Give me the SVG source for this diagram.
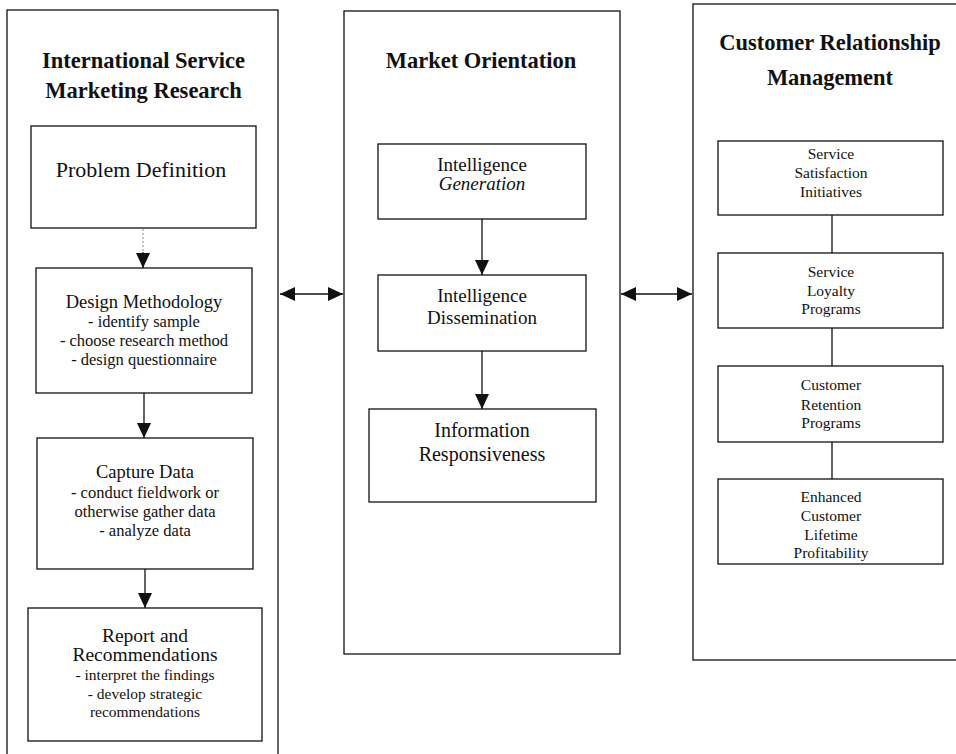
<svg xmlns="http://www.w3.org/2000/svg" width="956" height="754" viewBox="0 0 956 754">
<style>
  .frame{fill:#fff;stroke:#111;stroke-width:1.3}
  .box{fill:#fff;stroke:#111;stroke-width:1.3}
  .title{font-family:"Liberation Serif","Times New Roman",serif;font-weight:bold;font-size:22.5px;fill:#111;text-anchor:middle}
  .t{font-family:"Liberation Serif","Times New Roman",serif;fill:#111;text-anchor:middle}
  .h{font-size:18.5px}
  .b{font-size:16.5px}
  .s{font-size:15.5px}
  .line{stroke:#111;stroke-width:1.3;fill:none}
</style>
<defs>
  <marker id="ah" markerUnits="userSpaceOnUse" markerWidth="15" markerHeight="14" refX="15" refY="7" orient="auto-start-reverse">
    <path d="M0,0 L15,7 L0,14 z" fill="#111"/>
  </marker>
</defs>
<rect width="956" height="754" fill="#fff"/>

<g id="col-left">
  <rect class="frame" x="7" y="10" width="271" height="750"/>
  <text class="title" x="143.5" y="68">International Service</text>
  <text class="title" x="143.5" y="98">Marketing Research</text>
</g>
<g id="col-middle">
  <rect class="frame" x="344" y="11" width="276" height="643"/>
  <text class="title" x="481" y="68">Market Orientation</text>
</g>
<g id="col-right">
  <rect class="frame" x="693" y="4" width="270" height="656"/>
  <text class="title" x="830" y="50">Customer Relationship</text>
  <text class="title" x="830" y="85">Management</text>
</g>

<g id="connectors">
  <line x1="143" y1="229" x2="143" y2="268" stroke="#888" stroke-width="1" stroke-dasharray="2,2"/>
  <line class="line" x1="143" y1="252" x2="143" y2="268" marker-end="url(#ah)"/>
  <line class="line" x1="144" y1="393" x2="144" y2="438" marker-end="url(#ah)"/>
  <line class="line" x1="145" y1="569" x2="145" y2="608" marker-end="url(#ah)"/>
  <line class="line" x1="482" y1="219" x2="482" y2="275" marker-end="url(#ah)"/>
  <line class="line" x1="482" y1="351" x2="482" y2="409" marker-end="url(#ah)"/>
  <line class="line" x1="832" y1="215" x2="832" y2="253"/>
  <line class="line" x1="832" y1="328" x2="832" y2="366"/>
  <line class="line" x1="832" y1="442" x2="832" y2="479"/>
  <line class="line" x1="280" y1="294" x2="343" y2="294" marker-start="url(#ah)" marker-end="url(#ah)"/>
  <line class="line" x1="621" y1="294" x2="692" y2="294" marker-start="url(#ah)" marker-end="url(#ah)"/>
</g>

<g id="problem-definition">
  <rect class="box" x="31" y="126" width="225" height="102"/>
  <text class="t" x="141" y="177" font-size="22px">Problem Definition</text>
</g>
<g id="design-methodology">
  <rect class="box" x="36" y="268" width="216" height="125"/>
  <text class="t h" x="144" y="308">Design Methodology</text>
  <text class="t b" x="144" y="326.5">- identify sample</text>
  <text class="t b" x="144" y="345.5">- choose research method</text>
  <text class="t b" x="144" y="364.5">- design questionnaire</text>
</g>
<g id="capture-data">
  <rect class="box" x="37" y="438" width="216" height="131"/>
  <text class="t h" x="145" y="478">Capture Data</text>
  <text class="t b" x="145" y="497.5">- conduct fieldwork or</text>
  <text class="t b" x="145" y="517">otherwise gather data</text>
  <text class="t b" x="145" y="536">- analyze data</text>
</g>
<g id="report">
  <rect class="box" x="28" y="608" width="234" height="133"/>
  <text class="t" x="145" y="642" font-size="19.5px">Report and</text>
  <text class="t" x="145" y="661" font-size="19.5px">Recommendations</text>
  <text class="t s" x="145" y="680">- interpret the findings</text>
  <text class="t s" x="145" y="699">- develop strategic</text>
  <text class="t s" x="145" y="717">recommendations</text>
</g>

<g id="intelligence-generation">
  <rect class="box" x="378" y="144" width="208" height="75"/>
  <text class="t" x="482" y="171" font-size="19px">Intelligence</text>
  <text class="t" x="482" y="190" font-size="19px" font-style="italic">Generation</text>
</g>
<g id="intelligence-dissemination">
  <rect class="box" x="378" y="275" width="208" height="76"/>
  <text class="t" x="482" y="302" font-size="19px">Intelligence</text>
  <text class="t" x="482" y="324" font-size="19px">Dissemination</text>
</g>
<g id="information-responsiveness">
  <rect class="box" x="369" y="409" width="227" height="93"/>
  <text class="t" x="482" y="437" font-size="20px">Information</text>
  <text class="t" x="482" y="461" font-size="20px">Responsiveness</text>
</g>

<g id="service-satisfaction">
  <rect class="box" x="718" y="141" width="225" height="74"/>
  <text class="t s" x="831" y="159">Service</text>
  <text class="t s" x="831" y="178">Satisfaction</text>
  <text class="t s" x="831" y="197">Initiatives</text>
</g>
<g id="service-loyalty">
  <rect class="box" x="718" y="253" width="225" height="75"/>
  <text class="t s" x="831" y="277">Service</text>
  <text class="t s" x="831" y="296">Loyalty</text>
  <text class="t s" x="831" y="314">Programs</text>
</g>
<g id="customer-retention">
  <rect class="box" x="718" y="366" width="225" height="76"/>
  <text class="t s" x="831" y="390">Customer</text>
  <text class="t s" x="831" y="410">Retention</text>
  <text class="t s" x="831" y="428">Programs</text>
</g>
<g id="lifetime-profitability">
  <rect class="box" x="718" y="479" width="225" height="85"/>
  <text class="t s" x="831" y="502">Enhanced</text>
  <text class="t s" x="831" y="521">Customer</text>
  <text class="t s" x="831" y="540">Lifetime</text>
  <text class="t s" x="831" y="558">Profitability</text>
</g>
</svg>
